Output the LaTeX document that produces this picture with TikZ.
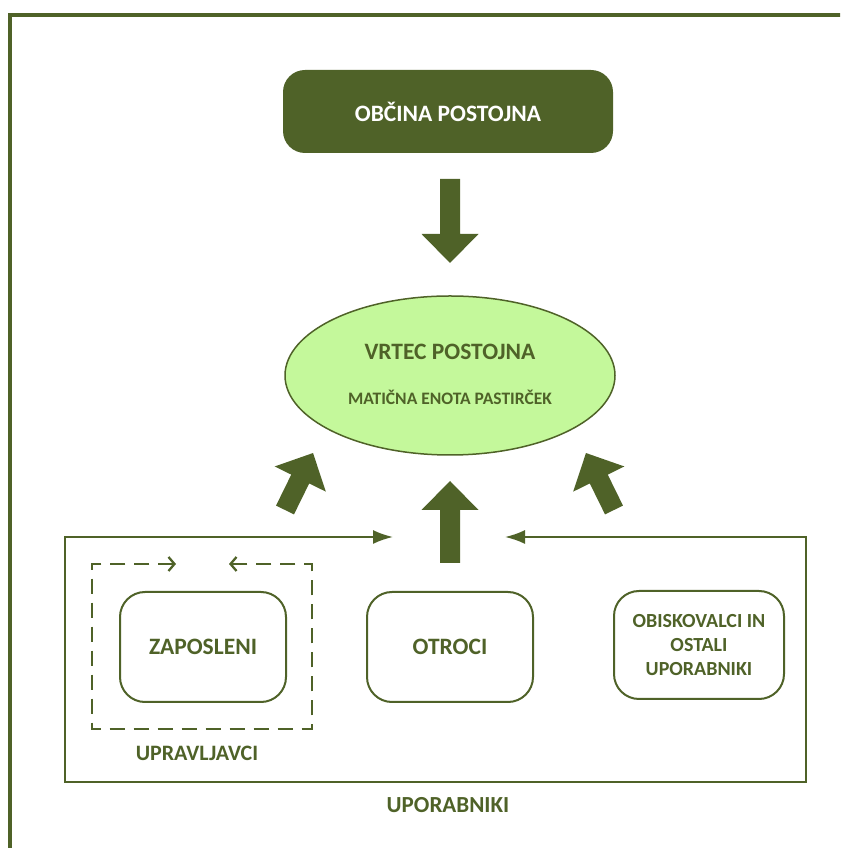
\documentclass[tikz,border=0pt]{standalone}
\usepackage{fontspec}
\setmainfont{Carlito}
\usetikzlibrary{arrows.meta,shapes.geometric}

\definecolor{olivedark}{RGB}{79,98,40}
\definecolor{lightlime}{RGB}{196,248,155}

% block arrow: base point, angle, length
\newcommand{\fatarrow}[3]{%
  \fill[olivedark,shift={#1},rotate=#2]
    (0,-10) -- (#3-29,-10) -- (#3-29,-28.5) -- (#3,0)
    -- (#3-29,28.5) -- (#3-29,10) -- (0,10) -- cycle;}

\begin{document}
\begin{tikzpicture}[x=1pt,y=1pt,
    big/.style={font=\fontsize{23.5}{28}\selectfont\bfseries},
    small/.style={font=\fontsize{17.5}{21}\selectfont\bfseries},
    unitbox/.style={draw=olivedark,line width=2pt,rounded corners=25pt,
      minimum width=166pt,minimum height=110pt,text=olivedark,align=center,big},
    thinline/.style={draw=olivedark,line width=2pt}]
  \useasboundingbox (0,0) rectangle (840,848);
  \clip (0,0) rectangle (840,848);

  \draw[olivedark,line width=4pt] (10,-30) rectangle (870,833);

  \node[fill=olivedark,rounded corners=22pt,minimum width=330pt,
    minimum height=83pt,text=white,big] (obcina) at (448,736.5) {OBČINA POSTOJNA};

  \node[ellipse,draw=olivedark,line width=1.5pt,fill=lightlime,
    minimum width=330pt,minimum height=159pt] (vrtec) at (450,472.5) {};
  \node[text=olivedark,big] (vrtecname) at (450,496) {VRTEC POSTOJNA};
  \node[text=olivedark,small] (maticna) at (450,451) {MATIČNA ENOTA PASTIRČEK};

  \fatarrow{(450,669)}{-90}{84}
  \fatarrow{(450,285)}{90}{82}
  \fatarrow{(285,338)}{63.8}{63.5}
  \fatarrow{(614,338)}{116.2}{63.5}

  \node[unitbox] (zaposleni) at (203,201) {ZAPOSLENI};
  \node[unitbox] (otroci) at (450,201) {OTROCI};
  \node[unitbox,minimum width=170pt,minimum height=108pt,
    font=\fontsize{20}{24}\selectfont\bfseries] (obiskovalci) at (699,203)
    {OBISKOVALCI IN\\OSTALI\\UPORABNIKI};

  \coordinate (leftin) at (393,311);
  \coordinate (rightin) at (505,311);
  \draw[thinline,{Latex[length=20pt,width=14pt]}-{Latex[length=20pt,width=14pt]}]
    (leftin) -- (65,311) -- (65,66) -- (806,66) -- (806,311) -- (rightin);
  \node[text=olivedark,font=\fontsize{23}{28}\selectfont\bfseries] (uporabniki) at (448,43) {UPORABNIKI};

  \coordinate (dashleft) at (176,284);
  \coordinate (dashright) at (229,284);
  \draw[thinline,line width=2.3pt,dash pattern=on 15pt off 9pt,
    {Straight Barb[length=6pt,width=14pt]}-{Straight Barb[length=6pt,width=14pt]}]
    (dashleft) -- (92,284) -- (92,119) -- (312,119) -- (312,284) -- (dashright);
  \node[text=olivedark,font=\fontsize{22}{26}\selectfont\bfseries] (upravljavci) at (197,95) {UPRAVLJAVCI};
\end{tikzpicture}
\end{document}
